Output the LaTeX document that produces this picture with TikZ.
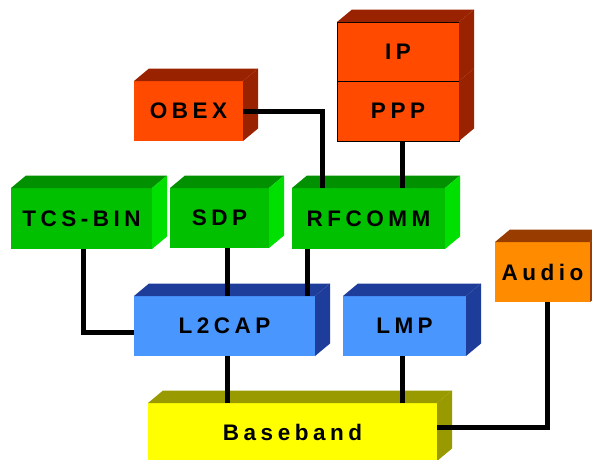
\documentclass[tikz,border=0pt]{standalone}
\usepackage{fontspec}
\newfontfamily\lblfont{Liberation Sans}[LetterSpace=20]
\usetikzlibrary{calc}
\definecolor{redF}{HTML}{FF4A00}
\definecolor{redD}{HTML}{992200}
\definecolor{grnF}{HTML}{00C000}
\definecolor{grnT}{HTML}{009000}
\definecolor{grnS}{HTML}{00E000}
\definecolor{bluF}{HTML}{4A96FF}
\definecolor{bluD}{HTML}{1E3C9A}
\definecolor{yelF}{HTML}{FFFF00}
\definecolor{yelD}{HTML}{999900}
\definecolor{audF}{HTML}{FF8C00}
\definecolor{audD}{HTML}{993C00}
\tikzset{
  layer/.style={anchor=north west, inner sep=0pt, outer sep=0pt,
    font=\lblfont\bfseries\fontsize{22.5}{24}\selectfont, text=black},
  conn/.style={line width=5pt, line cap=butt, line join=miter, draw=black}
}
% \mktop{node}{colour} and \mkside{node}{colour}
\newcommand\mktop[2]{%
  \fill[#2] (#1.north west) -- ++(15,-12.5) -- ($(#1.north east)+(15,-12.5)$) -- (#1.north east) -- cycle;
}
\newcommand\mkside[2]{%
  \fill[#2] (#1.north east) -- ++(15,-12.5) -- ($(#1.south east)+(15,-12.5)$) -- (#1.south east) -- cycle;
}
\newcommand\mkdepth[3]{\mktop{#1}{#2}\mkside{#1}{#3}}
\begin{document}
\begin{tikzpicture}[x=1pt,y=-1pt]
\clip (0,0) rectangle (592,459);
\fill[white] (0,0) rectangle (592,459);
% boxes
\node[layer, fill=redF, draw=black, line width=0.8pt, minimum width=122pt, minimum height=59pt] (ip) at (337,22) {IP};
\node[layer, fill=redF, draw=black, line width=0.8pt, minimum width=122pt, minimum height=60pt] (ppp) at (337,81) {PPP};
\node[layer, fill=redF, minimum width=109pt, minimum height=60pt] (obex) at (134,81) {OBEX};
\node[layer, fill=grnF, minimum width=141pt, minimum height=61pt] (tcs) at (11,188) {TCS-BIN};
\node[layer, fill=grnF, minimum width=99pt, minimum height=60pt] (sdp) at (170,188) {SDP};
\node[layer, fill=grnF, minimum width=153pt, minimum height=61pt] (rfcomm) at (292,188) {RFCOMM};
\node[layer, fill=bluF, minimum width=181pt, minimum height=60pt] (l2cap) at (134,296) {L2CAP};
\node[layer, fill=bluF, minimum width=123pt, minimum height=60pt] (lmp) at (343,296) {LMP};
\node[layer, fill=audF, minimum width=95pt, minimum height=60pt] (audio) at (495,242) {Audio};
\node[layer, fill=yelF, minimum width=289pt, minimum height=58pt] (base) at (148,403) {Baseband};
% depth faces
\mkside{ppp}{redD}
\mkdepth{ip}{redD}{redD}
\mkdepth{obex}{redD}{redD}
\mkdepth{tcs}{grnT}{grnS}
\mkdepth{sdp}{grnT}{grnS}
\mkdepth{rfcomm}{grnT}{grnS}
\mkdepth{l2cap}{bluD}{bluD}
\mkdepth{lmp}{bluD}{bluD}
\mkdepth{audio}{audD}{audD}
\mkdepth{base}{yelD}{yelD}
% connectors
\coordinate (rfin) at ($(rfcomm.north west)+(30,0)$);
\draw[conn] (obex.east) -| (rfin);
\draw[conn] ([xshift=4pt]ppp.south) -- ([xshift=4pt]ppp.south |- rfcomm.north);
\coordinate (sdpout) at ($(l2cap.north west)+(93,0)$);
\draw[conn] (sdpout |- sdp.south) -- (sdpout);
\coordinate (rfout) at ($(l2cap.north west)+(173,0)$);
\draw[conn] (rfout |- rfcomm.south) -- (rfout);
\coordinate (tcsin) at ($(l2cap.west)+(0,6)$);
\draw[conn] ([xshift=1.5pt]tcs.south) |- (tcsin);
\coordinate (l2out) at ($(base.north west)+(79,0)$);
\draw[conn] (l2out |- l2cap.south) -- (l2out);
\coordinate (lmpout) at ($(base.north west)+(254,0)$);
\draw[conn] (lmpout |- lmp.south) -- (lmpout);
\coordinate (basein) at ($(base.north east)+(0,24)$);
\draw[conn] ([xshift=4.5pt]audio.south) |- (basein);
\end{tikzpicture}
\end{document}
